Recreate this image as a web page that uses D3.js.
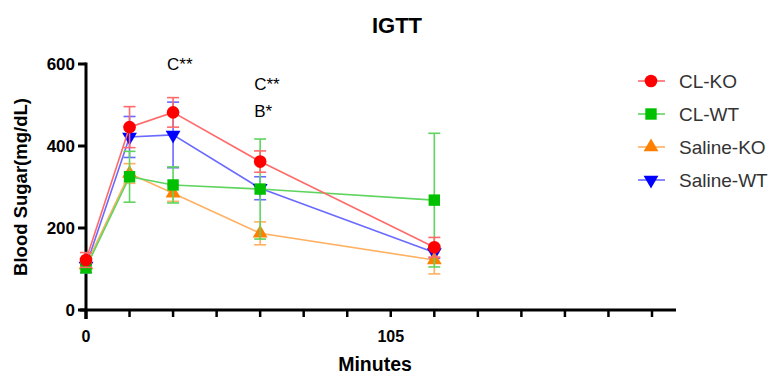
<!DOCTYPE html>
<html>
<head>
<meta charset="utf-8">
<script src="https://cdn.jsdelivr.net/npm/d3@7"></script>
<style>
  body { margin: 0; background: #fff; }
  svg { font-family: "Liberation Sans", Arial, sans-serif; }
</style>
</head>
<body>
<svg width="773" height="376"></svg>
<script>
const svg = d3.select("svg");

// data
const minutes = [0, 15, 30, 60, 120];
const seriesNames = ["CL-KO", "CL-WT", "Saline-KO", "Saline-WT"];
const clKO = [122, 446, 482, 362, 153];
const clKOerr = [18, 50, 36, 26, 24];
const clWT = [103, 325, 305, 295, 268];
const clWTerr = [12, 62, 44, 122, 163];
const salKO = [110, 333, 285, 187, 122];
const salKOerr = [10, 24, 20, 28, 34];
const salWT = [107, 422, 427, 297, 140];
const salWTerr = [16, 50, 80, 28, 14];
const yTicks = [0, 200, 400, 600];
const xTickLabels = [0, 105];

const colors = ["#ff0000", "#00c000", "#ff8000", "#0000ff"];
const lineColors = ["#ff6a6a", "#5fd45f", "#ffb060", "#6a6aff"];
const symbols = ["circle", "square", "up", "down"];

const series = seriesNames.map((name, i) => ({
  name: name,
  values: [clKO, clWT, salKO, salWT][i],
  errs: [clKOerr, clWTerr, salKOerr, salWTerr][i],
  color: colors[i],
  lineColor: lineColors[i],
  symbol: symbols[i]
}));

// scales
const x = d3.scaleLinear().domain([0, 195]).range([86, 652]);
const y = d3.scaleLinear().domain([0, 600]).range([310, 64]);

// axes
const xAxisG = svg.append("g").attr("transform", "translate(0,310)");
xAxisG.append("line")
  .attr("x1", 80).attr("x2", 676)
  .attr("stroke", "#000").attr("stroke-width", 3);
xAxisG.selectAll("line.tick")
  .data(d3.range(0, 196, 15))
  .enter().append("line")
  .attr("class", "tick")
  .attr("x1", d => x(d)).attr("x2", d => x(d))
  .attr("y1", 0).attr("y2", d => d === 0 ? 9 : 7)
  .attr("stroke", "#000").attr("stroke-width", d => d === 0 ? 3 : 2.5);
xAxisG.selectAll("text")
  .data(xTickLabels)
  .enter().append("text")
  .attr("x", d => x(d)).attr("y", 32)
  .attr("text-anchor", "middle")
  .style("font-size", "16px").style("font-weight", "bold")
  .text(d => d);

const yAxisG = svg.append("g");
yAxisG.append("line")
  .attr("x1", 86).attr("x2", 86)
  .attr("y1", y(600) - 1.5).attr("y2", 319)
  .attr("stroke", "#000").attr("stroke-width", 3);
yAxisG.selectAll("line.tick")
  .data(yTicks)
  .enter().append("line")
  .attr("class", "tick")
  .attr("x1", 78).attr("x2", 86)
  .attr("y1", d => y(d)).attr("y2", d => y(d))
  .attr("stroke", "#000").attr("stroke-width", 3);
yAxisG.selectAll("text")
  .data(yTicks)
  .enter().append("text")
  .attr("x", 75).attr("y", d => y(d) + 6)
  .attr("text-anchor", "end")
  .style("font-size", "17px").style("font-weight", "bold")
  .text(d => d);

// titles
svg.append("text")
  .attr("x", 397).attr("y", 33)
  .attr("text-anchor", "middle")
  .style("font-size", "22px").style("font-weight", "bold")
  .text("IGTT");
svg.append("text")
  .attr("x", 375).attr("y", 371)
  .attr("text-anchor", "middle")
  .style("font-size", "19.5px").style("font-weight", "bold")
  .text("Minutes");
svg.append("text")
  .attr("transform", "translate(27,187) rotate(-90)")
  .attr("text-anchor", "middle")
  .style("font-size", "18.5px").style("font-weight", "bold")
  .text("Blood Sugar(mg/dL)");

// significance labels
const notes = [
  { t: 30, v: 585, label: "C**" },
  { t: 60, v: 537, label: "C**" },
  { t: 60, v: 471, label: "B*" }
];
svg.selectAll("text.note")
  .data(notes)
  .enter().append("text")
  .attr("class", "note")
  .attr("x", d => x(d.t) - 6).attr("y", d => y(d.v))
  .style("font-size", "17px")
  .text(d => d.label);

// lines, error bars, markers
const line = d3.line().x((d, i) => x(minutes[i])).y(d => y(d));
const symbolPath = {
  circle: d3.symbol().type(d3.symbolCircle).size(125)(),
  square: d3.symbol().type(d3.symbolSquare).size(130)(),
  up: d3.symbol().type(d3.symbolTriangle).size(95)(),
  down: d3.symbol().type(d3.symbolTriangle).size(95)()
};

const plot = svg.append("g");
// draw in reverse so CL-KO ends up on top
series.slice().reverse().forEach(s => {
  const g = plot.append("g");
  g.append("path")
    .attr("d", line(s.values))
    .attr("fill", "none")
    .attr("stroke", s.lineColor)
    .attr("stroke-width", 1.6);

  const eb = g.selectAll("g.err")
    .data(s.values.map((v, i) => ({ t: minutes[i], v: v, e: s.errs[i] })))
    .enter().append("g");
  eb.append("line")
    .attr("x1", d => x(d.t)).attr("x2", d => x(d.t))
    .attr("y1", d => y(d.v - d.e)).attr("y2", d => y(d.v + d.e))
    .attr("stroke", s.lineColor).attr("stroke-width", 1.6);
  [1, -1].forEach(sign => {
    eb.append("line")
      .attr("x1", d => x(d.t) - 6).attr("x2", d => x(d.t) + 6)
      .attr("y1", d => y(d.v + sign * d.e)).attr("y2", d => y(d.v + sign * d.e))
      .attr("stroke", s.lineColor).attr("stroke-width", 1.6);
  });

  g.selectAll("path.mark")
    .data(s.values)
    .enter().append("path")
    .attr("class", "mark")
    .attr("d", symbolPath[s.symbol])
    .attr("transform", (d, i) => `translate(${x(minutes[i])},${y(d)})` + (s.symbol === "down" ? " rotate(180)" : ""))
    .attr("fill", s.color);
});

// legend
const legend = svg.append("g");
const rows = legend.selectAll("g")
  .data(series)
  .enter().append("g")
  .attr("transform", (d, i) => `translate(651,${81 + i * 33})`);
rows.append("line")
  .attr("x1", -13).attr("x2", 14)
  .attr("stroke", d => d.lineColor).attr("stroke-width", 1.6);
rows.append("path")
  .attr("d", d => symbolPath[d.symbol])
  .attr("transform", d => d.symbol === "down" ? "rotate(180)" : null)
  .attr("fill", d => d.color);
rows.append("text")
  .attr("x", 28).attr("y", 7)
  .style("font-size", "19px")
  .attr("fill", "#333")
  .text(d => d.name);
</script>
</body>
</html>
